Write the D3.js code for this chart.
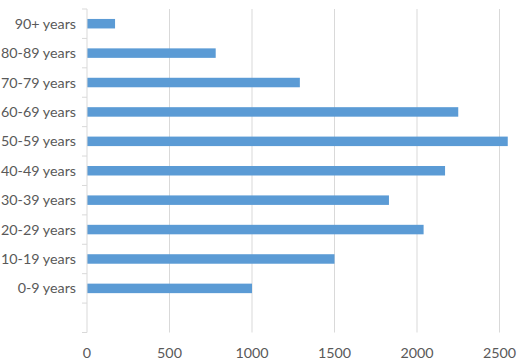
<!DOCTYPE html>
<html>
<head>
<meta charset="utf-8">
<script src="https://d3js.org/d3.v7.min.js"></script>
<style>
  html, body { margin: 0; padding: 0; background: #fff; }
  text { font-family: Lato, "Open Sans", sans-serif; fill: #595959; }
</style>
</head>
<body>
<div id="chart"></div>
<script>
// categories bottom to top, "" is the empty slot under 0-9
const categories = ["", "0-9 years", "10-19 years", "20-29 years", "30-39 years", "40-49 years",
  "50-59 years", "60-69 years", "70-79 years", "80-89 years", "90+ years"];
const values = [null, 1000, 1500, 2040, 1830, 2170, 2550, 2250, 1290, 780, 170];
const xTicks = [0, 500, 1000, 1500, 2000, 2500];

const width = 522, height = 362;
const svg = d3.select("#chart").append("svg")
  .attr("width", width).attr("height", height);

const x = d3.scaleLinear().domain([0, 2500]).range([87, 499.5]);
const y = d3.scaleBand().domain(categories).range([332.5, 9]);
const barH = 9.5;

// gridlines
svg.append("g").selectAll("line")
  .data(xTicks.slice(1))
  .enter().append("line")
  .attr("x1", d => x(d)).attr("x2", d => x(d))
  .attr("y1", 9).attr("y2", 332.5)
  .attr("stroke", "#d9d9d9").attr("stroke-width", 1);

// bars
svg.append("g").selectAll("rect")
  .data(categories.map((c, i) => ({ c: c, v: values[i] })).filter(d => d.v != null))
  .enter().append("rect")
  .attr("x", x(0))
  .attr("y", d => y(d.c) + y.bandwidth() / 2 - barH / 2)
  .attr("width", d => x(d.v) - x(0))
  .attr("height", barH)
  .attr("fill", "#5b9bd5");

// left axis line and category ticks
svg.append("line")
  .attr("x1", x(0)).attr("x2", x(0)).attr("y1", 9).attr("y2", 332.5)
  .attr("stroke", "#d9d9d9");
const bounds = categories.map(c => y(c)).concat([y(categories[0]) + y.bandwidth()]);
svg.append("g").selectAll("line")
  .data(bounds)
  .enter().append("line")
  .attr("x1", x(0) - 5).attr("x2", x(0))
  .attr("y1", d => d).attr("y2", d => d)
  .attr("stroke", "#d9d9d9");

// category labels
svg.append("g").selectAll("text")
  .data(categories.filter(c => c))
  .enter().append("text")
  .attr("x", 76)
  .attr("y", d => y(d) + y.bandwidth() / 2)
  .attr("dy", "0.35em")
  .attr("text-anchor", "end")
  .style("font-size", "14.3px")
  .text(d => d);

// x tick labels
svg.append("g").selectAll("text")
  .data(xTicks)
  .enter().append("text")
  .attr("x", d => x(d))
  .attr("y", 353)
  .attr("dy", "0.35em")
  .attr("text-anchor", "middle")
  .style("font-size", "14.3px")
  .text(d => d);
</script>
</body>
</html>
